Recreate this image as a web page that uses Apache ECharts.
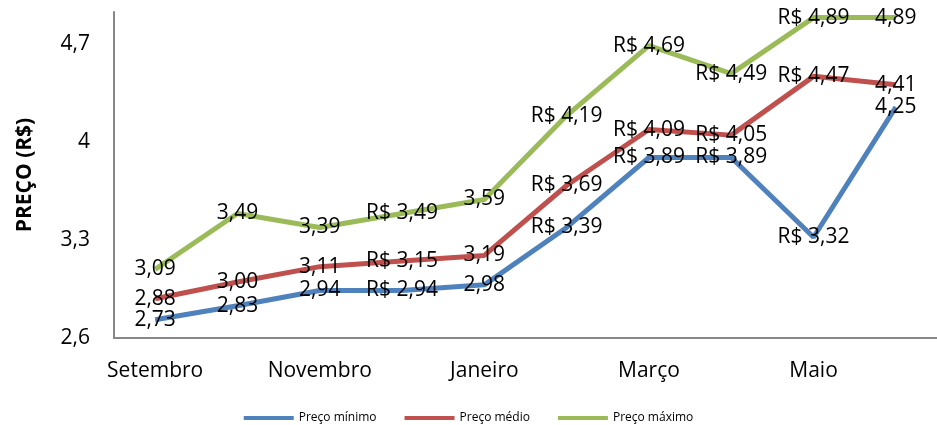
<!DOCTYPE html>
<html>
<head>
<meta charset="utf-8">
<script src="https://cdn.jsdelivr.net/npm/echarts@6/dist/echarts.min.js"></script>
<style>
  html, body { margin: 0; padding: 0; background: #fff; }
  #chart-container { width: 937px; height: 425px; }
</style>
</head>
<body>
<div id="chart-container"></div>
<script>
var months = ['Setembro', 'Outubro', 'Novembro', 'Dezembro', 'Janeiro', 'Fevereiro', 'Março', 'Abril', 'Maio', 'Junho'];
var precoMinimo = [2.73, 2.83, 2.94, 2.94, 2.98, 3.39, 3.89, 3.89, 3.32, 4.25];
var precoMedio = [2.88, 3.00, 3.11, 3.15, 3.19, 3.69, 4.09, 4.05, 4.47, 4.41];
var precoMaximo = [3.09, 3.49, 3.39, 3.49, 3.59, 4.19, 4.69, 4.49, 4.89, 4.89];
// which months show the label with the "R$" prefix
var comPrefixo = [false, false, false, true, false, true, true, true, true, false];
var yTicks = [2.6, 3.3, 4.0, 4.7];

var font = 'Open Sans';
var dom = document.getElementById('chart-container');
var myChart = echarts.init(dom, null, { renderer: 'canvas' });

function fmt(v) {
  return v.toFixed(2).replace('.', ',');
}

function serie(name, data, color) {
  return {
    name: name,
    type: 'line',
    data: data,
    showSymbol: true,
    symbol: 'circle',
    symbolSize: 0,
    lineStyle: { color: color, width: 5 },
    itemStyle: { color: color },
    label: {
      show: true,
      position: 'inside',
      offset: [0, 2],
      color: '#000',
      fontFamily: font,
      fontSize: 21,
      formatter: function (p) {
        return (comPrefixo[p.dataIndex] ? 'R$ ' : '') + fmt(p.value);
      }
    },
    labelLayout: { hideOverlap: false },
    emphasis: { disabled: true }
  };
}

var option = {
  animation: false,
  grid: { left: 114, right: -9, top: 12, bottom: 87, containLabel: false },
  legend: {
    top: 407,
    left: 'center',
    itemWidth: 50,
    itemHeight: 4,
    itemGap: 28,
    icon: 'rect',
    textStyle: { fontFamily: font, fontSize: 12, color: '#000' },
    data: ['Preço mínimo', 'Preço médio', 'Preço máximo']
  },
  xAxis: {
    type: 'category',
    data: months,
    boundaryGap: true,
    axisLine: { lineStyle: { color: '#878787', width: 2 } },
    axisTick: { show: false },
    axisLabel: { interval: 1, margin: 23, color: '#000', fontFamily: font, fontSize: 21 }
  },
  yAxis: {
    type: 'value',
    min: 2.6,
    max: 4.93,
    interval: 0.7,
    name: 'PREÇO (R$)',
    nameLocation: 'middle',
    nameGap: 78,
    nameRotate: 90,
    nameTextStyle: { fontFamily: font, fontSize: 21, fontWeight: 'bold', color: '#000' },
    splitLine: { show: false },
    axisLine: { show: true, lineStyle: { color: '#878787', width: 2 } },
    axisTick: { show: false },
    axisLabel: {
      margin: 24,
      color: '#000',
      fontFamily: font,
      fontSize: 21,
      showMaxLabel: false,
      formatter: function (v) {
        var r = Math.round(v * 10) / 10;
        return yTicks.indexOf(r) >= 0 ? String(r).replace('.', ',') : '';
      }
    }
  },
  series: [
    serie('Preço mínimo', precoMinimo, '#4F81BD'),
    serie('Preço médio', precoMedio, '#C0504D'),
    serie('Preço máximo', precoMaximo, '#9BBB59')
  ]
};
myChart.setOption(option);
window.addEventListener('resize', myChart.resize);
</script>
</body>
</html>
